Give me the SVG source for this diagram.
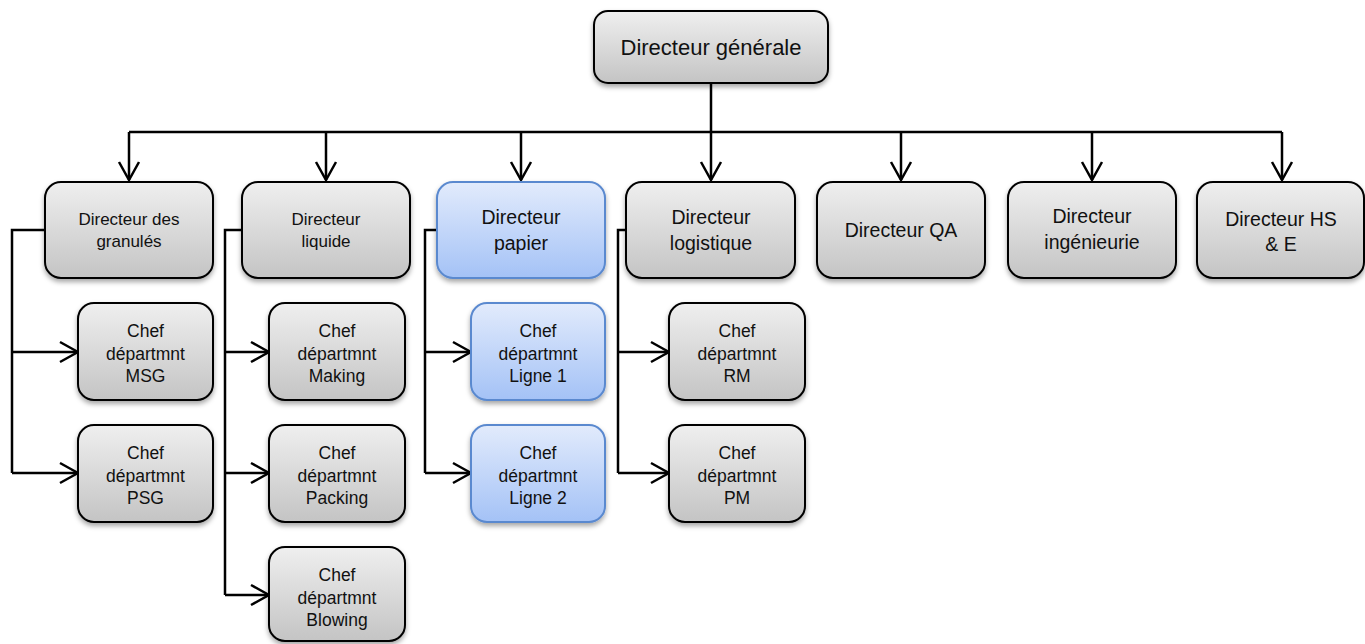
<svg xmlns="http://www.w3.org/2000/svg" width="1365" height="644" viewBox="0 0 1365 644">
  <defs>
    <linearGradient id="gGray" x1="0" y1="0" x2="0" y2="1">
      <stop offset="0" stop-color="#efefef"/>
      <stop offset="1" stop-color="#c4c4c4"/>
    </linearGradient>
    <linearGradient id="gBlue" x1="0" y1="0" x2="0" y2="1">
      <stop offset="0" stop-color="#e2ebfc"/>
      <stop offset="1" stop-color="#a4c2f6"/>
    </linearGradient>
    <filter id="shadow" x="-10%" y="-10%" width="120%" height="130%">
      <feDropShadow dx="0" dy="3" stdDeviation="2.5" flood-color="#000" flood-opacity="0.35"/>
    </filter>
    <marker id="arrow" markerUnits="userSpaceOnUse" viewBox="-20 -12 22 24" refX="0" refY="0" markerWidth="22" markerHeight="24" orient="auto">
      <path d="M-18,-10 L0,0 L-18,10" fill="none" stroke="#000" stroke-width="2.5"/>
    </marker>
  </defs>
  <style>
    .box { fill: url(#gGray); stroke: #000; stroke-width: 2; filter: url(#shadow); }
    .blue { fill: url(#gBlue); stroke: #5a89cf; stroke-width: 2; filter: url(#shadow); }
    .conn { fill: none; stroke: #000; stroke-width: 2.5; }
    text { font-family: "Liberation Sans", Arial, sans-serif; fill: #111; text-anchor: middle; }
    .t-top { font-size: 22px; }
    .t-big { font-size: 19.5px; }
    .t-small { font-size: 17px; }
    .t-child { font-size: 17.5px; }
  </style>

  <!-- connectors -->
  <g id="connectors">
    <!-- top trunk and bus -->
    <path class="conn" d="M711,83 V132 M129,132 H1282"/>
    <path class="conn" marker-end="url(#arrow)" d="M129,132 V180"/>
    <path class="conn" marker-end="url(#arrow)" d="M326,132 V180"/>
    <path class="conn" marker-end="url(#arrow)" d="M521,132 V180"/>
    <path class="conn" marker-end="url(#arrow)" d="M711,132 V180"/>
    <path class="conn" marker-end="url(#arrow)" d="M901,132 V180"/>
    <path class="conn" marker-end="url(#arrow)" d="M1092,132 V180"/>
    <path class="conn" marker-end="url(#arrow)" d="M1282,132 V180"/>

    <!-- granulés branch -->
    <path class="conn" d="M45,230 H12 V473"/>
    <path class="conn" marker-end="url(#arrow)" d="M12,352 H78"/>
    <path class="conn" marker-end="url(#arrow)" d="M12,473 H78"/>

    <!-- liquide branch -->
    <path class="conn" d="M242,230 H225 V595"/>
    <path class="conn" marker-end="url(#arrow)" d="M225,352 H269"/>
    <path class="conn" marker-end="url(#arrow)" d="M225,473 H269"/>
    <path class="conn" marker-end="url(#arrow)" d="M225,595 H269"/>

    <!-- papier branch -->
    <path class="conn" d="M437,230 H425 V473"/>
    <path class="conn" marker-end="url(#arrow)" d="M425,352 H471"/>
    <path class="conn" marker-end="url(#arrow)" d="M425,473 H471"/>

    <!-- logistique branch -->
    <path class="conn" d="M626,230 H618 V473"/>
    <path class="conn" marker-end="url(#arrow)" d="M618,352 H669"/>
    <path class="conn" marker-end="url(#arrow)" d="M618,473 H669"/>
  </g>

  <!-- top node -->
  <g id="dg">
    <rect class="box" x="594" y="11" width="234" height="72" rx="14"/>
    <text class="t-top" x="711" y="55">Directeur générale</text>
  </g>

  <!-- directors -->
  <g id="dir-granules">
    <rect class="box" x="45" y="182" width="168" height="96" rx="16"/>
    <text class="t-small" x="129" y="225">Directeur des</text>
    <text class="t-small" x="129" y="247">granulés</text>
  </g>
  <g id="dir-liquide">
    <rect class="box" x="242" y="182" width="168" height="96" rx="16"/>
    <text class="t-small" x="326" y="225">Directeur</text>
    <text class="t-small" x="326" y="247">liquide</text>
  </g>
  <g id="dir-papier">
    <rect class="blue" x="437" y="182" width="168" height="96" rx="16"/>
    <text class="t-big" x="521" y="224">Directeur</text>
    <text class="t-big" x="521" y="250">papier</text>
  </g>
  <g id="dir-logistique">
    <rect class="box" x="626" y="182" width="169" height="96" rx="16"/>
    <text class="t-big" x="711" y="224">Directeur</text>
    <text class="t-big" x="711" y="250">logistique</text>
  </g>
  <g id="dir-qa">
    <rect class="box" x="817" y="182" width="168" height="96" rx="16"/>
    <text class="t-big" x="901" y="237">Directeur QA</text>
  </g>
  <g id="dir-ingenieurie">
    <rect class="box" x="1008" y="182" width="168" height="96" rx="16"/>
    <text class="t-big" x="1092" y="223">Directeur</text>
    <text class="t-big" x="1092" y="249">ingénieurie</text>
  </g>
  <g id="dir-hse">
    <rect class="box" x="1197" y="182" width="167" height="96" rx="16"/>
    <text class="t-big" x="1281" y="226">Directeur HS</text>
    <text class="t-big" x="1281" y="251">&amp; E</text>
  </g>

  <!-- department heads -->
  <g id="chef-msg">
    <rect class="box" x="78" y="303" width="135" height="97" rx="16"/>
    <text class="t-child" x="145.5" y="337">Chef</text>
    <text class="t-child" x="145.5" y="359.5">départmnt</text>
    <text class="t-child" x="145.5" y="382">MSG</text>
  </g>
  <g id="chef-psg">
    <rect class="box" x="78" y="425" width="135" height="97" rx="16"/>
    <text class="t-child" x="145.5" y="459">Chef</text>
    <text class="t-child" x="145.5" y="481.5">départmnt</text>
    <text class="t-child" x="145.5" y="504">PSG</text>
  </g>
  <g id="chef-making">
    <rect class="box" x="269" y="303" width="136" height="97" rx="16"/>
    <text class="t-child" x="337" y="337">Chef</text>
    <text class="t-child" x="337" y="359.5">départmnt</text>
    <text class="t-child" x="337" y="382">Making</text>
  </g>
  <g id="chef-packing">
    <rect class="box" x="269" y="425" width="136" height="97" rx="16"/>
    <text class="t-child" x="337" y="459">Chef</text>
    <text class="t-child" x="337" y="481.5">départmnt</text>
    <text class="t-child" x="337" y="504">Packing</text>
  </g>
  <g id="chef-blowing">
    <rect class="box" x="269" y="547" width="136" height="94" rx="16"/>
    <text class="t-child" x="337" y="581">Chef</text>
    <text class="t-child" x="337" y="603.5">départmnt</text>
    <text class="t-child" x="337" y="626">Blowing</text>
  </g>
  <g id="chef-ligne1">
    <rect class="blue" x="471" y="303" width="134" height="97" rx="16"/>
    <text class="t-child" x="538" y="337">Chef</text>
    <text class="t-child" x="538" y="359.5">départmnt</text>
    <text class="t-child" x="538" y="382">Ligne 1</text>
  </g>
  <g id="chef-ligne2">
    <rect class="blue" x="471" y="425" width="134" height="97" rx="16"/>
    <text class="t-child" x="538" y="459">Chef</text>
    <text class="t-child" x="538" y="481.5">départmnt</text>
    <text class="t-child" x="538" y="504">Ligne 2</text>
  </g>
  <g id="chef-rm">
    <rect class="box" x="669" y="303" width="136" height="97" rx="16"/>
    <text class="t-child" x="737" y="337">Chef</text>
    <text class="t-child" x="737" y="359.5">départmnt</text>
    <text class="t-child" x="737" y="382">RM</text>
  </g>
  <g id="chef-pm">
    <rect class="box" x="669" y="425" width="136" height="97" rx="16"/>
    <text class="t-child" x="737" y="459">Chef</text>
    <text class="t-child" x="737" y="481.5">départmnt</text>
    <text class="t-child" x="737" y="504">PM</text>
  </g>
</svg>
